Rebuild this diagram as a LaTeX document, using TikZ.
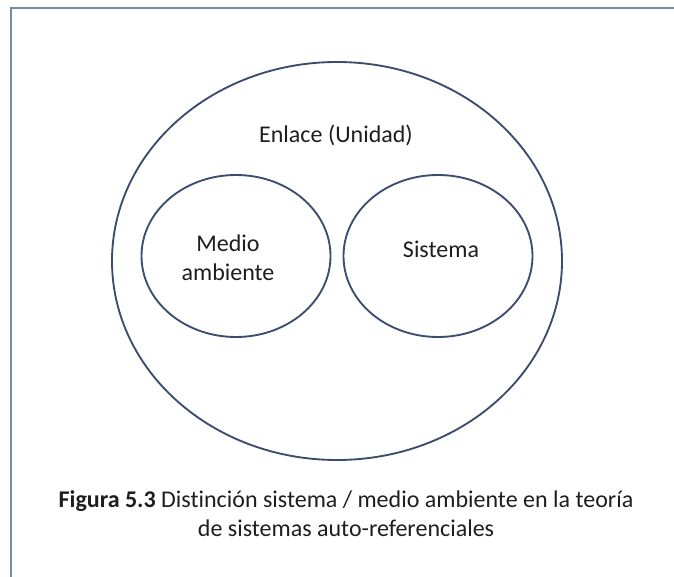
\documentclass[tikz,border=0pt]{standalone}
\usepackage{fontspec}
\setmainfont[Ligatures=NoCommon]{Carlito}
\usetikzlibrary{shapes.geometric}
\definecolor{ringblue}{HTML}{3C4C6E}
\definecolor{frameblue}{HTML}{6F8DA3}
\definecolor{inkgray}{HTML}{1E1E1E}
\begin{document}
\begin{tikzpicture}[x=0.75pt, y=-0.75pt,
		ring/.style = {draw=ringblue, line width=1.4pt, ellipse, inner sep=0pt},
		txt/.style = {font=\fontsize{18}{21.75}\selectfont, text=inkgray, align=center}]
		\useasboundingbox (0,0) rectangle (674,577);
		\draw[frameblue, line width=1.5pt] (11,577) -- (11,8) -- (674,8);
		\node[ring, minimum width=337.5pt, minimum height=298.5pt] (enlace) at (337,261) {};
		\node[ring, minimum width=141.75pt, minimum height=121.5pt] (medio) at (236,256) {};
		\node[ring, minimum width=141.75pt, minimum height=121.5pt] (sistema) at (438,256) {};
		\node[txt] (enlacetxt) at (336,135) {Enlace (Unidad)};
		\node[txt] (mediotxt) at (228,258) {Medio\\ambiente};
		\node[txt] (sistematxt) at (441,249) {Sistema};
		\node[txt] (caption) at (346,514) {\textbf{Figura 5.3} Distinción sistema / medio ambiente en la teoría\\de sistemas auto-referenciales};
	\end{tikzpicture}
\end{document}
